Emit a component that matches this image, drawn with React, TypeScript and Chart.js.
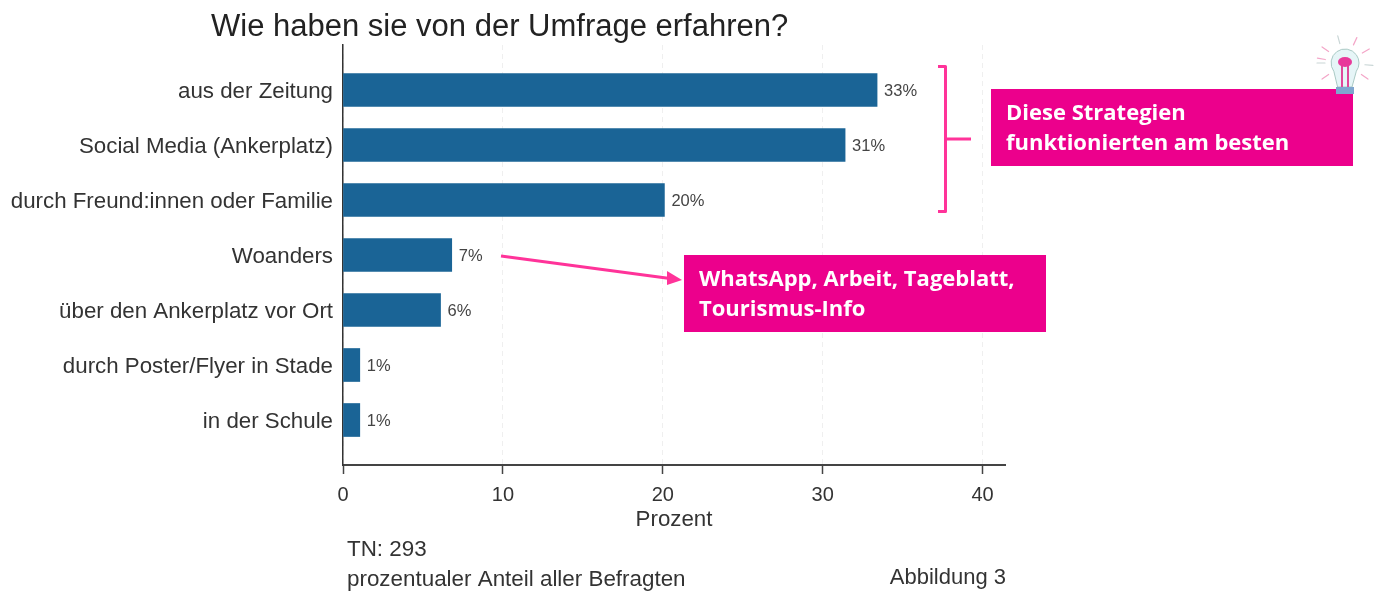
import React, { useEffect, useRef } from "react";
import { Chart, registerables } from "chart.js";

Chart.register(...registerables);

const categories = [
  "aus der Zeitung",
  "Social Media (Ankerplatz)",
  "durch Freund:innen oder Familie",
  "Woanders",
  "über den Ankerplatz vor Ort",
  "durch Poster/Flyer in Stade",
  "in der Schule",
];
const values = [33.4, 31.4, 20.1, 6.8, 6.1, 1.05, 1.05];
const valueLabels = ["33%", "31%", "20%", "7%", "6%", "1%", "1%"];
const xTicks = [0, 10, 20, 30, 40];
const chartTitle = "Wie haben sie von der Umfrage erfahren?";
const axisTitle = "Prozent";
const noteLines = ["TN: 293", "prozentualer Anteil aller Befragten"];
const figureLabel = "Abbildung 3";
const calloutTop = ["Diese Strategien", "funktionierten am besten"];
const calloutBottom = ["WhatsApp, Arbeit, Tageblatt,", "Tourismus-Info"];

const ARIAL = '"Liberation Sans", Arial, sans-serif';
const BOX = "#ec008c";
const LINE = "#ff3399";

function drawBulb(ctx: CanvasRenderingContext2D) {
  const cx = 1345;
  const cy = 63;
  ctx.save();
  ctx.lineCap = "round";
  const rays: [number, string][] = [
    [-170, "#f4a6c8"], [-145, "#f4a6c8"], [-105, "#c9d6d6"], [-65, "#f4a6c8"],
    [-30, "#f4a6c8"], [5, "#c9d6d6"], [35, "#f4a6c8"], [145, "#f4a6c8"], [180, "#c9d6d6"],
  ];
  ctx.lineWidth = 1.2;
  for (const [deg, col] of rays) {
    const a = (deg * Math.PI) / 180;
    ctx.strokeStyle = col;
    ctx.beginPath();
    ctx.moveTo(cx + Math.cos(a) * 20, cy + Math.sin(a) * 20);
    ctx.lineTo(cx + Math.cos(a) * 28, cy + Math.sin(a) * 28);
    ctx.stroke();
  }
  ctx.fillStyle = "#e6f5f7";
  ctx.strokeStyle = "#a9c9c4";
  ctx.lineWidth = 1;
  ctx.beginPath();
  ctx.arc(cx, cy, 14, Math.PI * 0.8, Math.PI * 0.2);
  ctx.lineTo(cx + 7, cy + 24);
  ctx.lineTo(cx - 7, cy + 24);
  ctx.closePath();
  ctx.fill();
  ctx.stroke();
  ctx.strokeStyle = "#e0489a";
  ctx.lineWidth = 2;
  ctx.beginPath();
  ctx.moveTo(cx - 3, cy + 24);
  ctx.lineTo(cx - 3, cy + 3);
  ctx.moveTo(cx + 3, cy + 24);
  ctx.lineTo(cx + 3, cy + 3);
  ctx.stroke();
  ctx.fillStyle = "#e8399a";
  ctx.beginPath();
  ctx.ellipse(cx, cy - 1, 7, 5, 0, 0, Math.PI * 2);
  ctx.fill();
  ctx.fillStyle = "#7fa6cf";
  ctx.fillRect(cx - 9, cy + 24, 18, 7);
  ctx.restore();
}

function drawBox(ctx: CanvasRenderingContext2D, x: number, y: number, lines: string[]) {
  ctx.fillStyle = BOX;
  ctx.fillRect(x, y, 362, 77);
  ctx.fillStyle = "#ffffff";
  ctx.font = '700 22px "Open Sans", sans-serif';
  ctx.textAlign = "left";
  ctx.textBaseline = "middle";
  lines.forEach((t, i) => ctx.fillText(t, x + 15, y + 25 + i * 30));
}

const overlay = {
  id: "overlay",
  afterDatasetsDraw(chart: any) {
    const ctx: CanvasRenderingContext2D = chart.ctx;
    const xs = chart.scales.x;
    const ys = chart.scales.y;
    ctx.save();

    // value labels
    ctx.fillStyle = "#444444";
    ctx.font = `16.5px ${ARIAL}`;
    ctx.textAlign = "left";
    ctx.textBaseline = "middle";
    values.forEach((v, i) => {
      ctx.fillText(valueLabels[i], xs.getPixelForValue(v) + 7, ys.getPixelForValue(i) + 1);
    });

    // title
    ctx.fillStyle = "#222222";
    ctx.font = `31px ${ARIAL}`;
    ctx.fillText(chartTitle, 211, 27);

    // notes
    ctx.fillStyle = "#333333";
    ctx.font = `22.4px ${ARIAL}`;
    ctx.fillText(noteLines[0], 347, 550);
    ctx.fillText(noteLines[1], 347, 580);
    ctx.textAlign = "right";
    ctx.font = `22px ${ARIAL}`;
    ctx.fillText(figureLabel, 1006, 578);

    // bracket
    ctx.strokeStyle = LINE;
    ctx.lineWidth = 3;
    ctx.lineJoin = "round";
    ctx.beginPath();
    ctx.moveTo(938, 66.5);
    ctx.lineTo(945.5, 66.5);
    ctx.lineTo(945.5, 211.5);
    ctx.lineTo(938, 211.5);
    ctx.moveTo(945.5, 139);
    ctx.lineTo(971, 139);
    ctx.stroke();

    // arrow
    ctx.beginPath();
    ctx.moveTo(501, 256);
    ctx.lineTo(670, 278.5);
    ctx.stroke();
    ctx.fillStyle = LINE;
    ctx.beginPath();
    ctx.moveTo(682, 280);
    ctx.lineTo(667, 271);
    ctx.lineTo(667, 285);
    ctx.closePath();
    ctx.fill();

    drawBox(ctx, 991, 89, calloutTop);
    drawBox(ctx, 684, 255, calloutBottom);
    drawBulb(ctx);
    ctx.restore();
  },
};

export default function App() {
  const ref = useRef<HTMLCanvasElement>(null);
  useEffect(() => {
    document.body.style.margin = "0";
    const chart = new Chart(ref.current!, {
      type: "bar",
      data: {
        datasets: [
          {
            data: values.map((v, i) => ({ x: v, y: i })),
            backgroundColor: "#1a6496",
            barThickness: 33,
          },
        ],
      },
      options: {
        indexAxis: "y",
        animation: false,
        responsive: false,
        layout: { padding: { left: 0, top: 45, right: 376, bottom: 0 } },
        plugins: { legend: { display: false }, tooltip: { enabled: false }, title: { display: false } },
        scales: {
          x: {
            type: "linear",
            min: 0,
            max: 41.4,
            afterBuildTicks: (s: any) => {
              s.ticks = xTicks.map((value) => ({ value }));
            },
            afterFit: (s: any) => {
              s.height = 127;
            },
            grid: { color: "#efefef", tickColor: "#444444", tickLength: 9, tickWidth: 1.5, drawTicks: true },
            border: { color: "#444444", width: 2, dash: [5, 4] },
            ticks: {
              color: "#333333",
              font: { family: ARIAL, size: 20 },
              maxRotation: 0,
              padding: 9,
              autoSkip: false,
            },
            title: {
              display: true,
              text: axisTitle,
              color: "#333333",
              font: { family: ARIAL, size: 22.3 },
              padding: { top: 0, bottom: 59 },
            },
          },
          y: {
            type: "linear",
            reverse: true,
            offset: false,
            min: -0.818,
            max: 6.818,
            afterBuildTicks: (s: any) => {
              s.ticks = categories.map((_, value) => ({ value }));
            },
            afterFit: (s: any) => {
              s.width = 343;
            },
            grid: { display: false, drawTicks: false, offset: false },
            border: { color: "#333333", width: 1.5 },
            ticks: {
              color: "#333333",
              font: { family: ARIAL, size: 22.3 },
              padding: 10,
              labelOffset: 1.5,
              autoSkip: false,
              callback: (v: any) => categories[v as number],
            },
          },
        },
      },
      plugins: [overlay],
    } as any);
    return () => chart.destroy();
  }, []);
  return (
    <canvas
      ref={ref}
      width={1381}
      height={592}
      style={{ display: "block", width: 1381, height: 592, background: "#ffffff" }}
    />
  );
}
